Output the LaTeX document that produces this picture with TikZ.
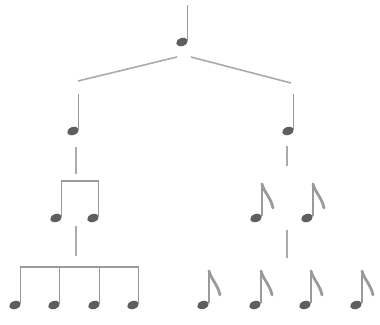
\documentclass[tikz,border=0pt]{standalone}
\usetikzlibrary{shapes.geometric}
\definecolor{headc}{HTML}{5E5E5E}
\definecolor{stemc}{HTML}{9A9A9A}
\definecolor{linkc}{HTML}{ABABAB}
\tikzset{
  nhead/.style={ellipse, fill=headc, minimum width=12pt, minimum height=8pt, inner sep=0pt, rotate=20},
  stemline/.style={draw=stemc, line width=1.6pt},
  beamline/.style={draw=stemc, line width=2.4pt},
  flagline/.style={draw=stemc, line width=2.8pt, line cap=round},
  linkline/.style={draw=linkc, line width=1.6pt},
}
\newcommand{\quarternote}[3]{%
  \node[nhead] (#1) at (#2,#3) {};
  \draw[stemline] (#1) ++(5.5,-1) -- ++(0,-36);
}
\newcommand{\eighthnote}[3]{%
  \node[nhead] (#1) at (#2,#3) {};
  \draw[stemline] (#1) ++(6,-2) -- ++(0,-33);
  \draw[flagline] (#1) ++(6,-34) .. controls ++(2,8) and ++(-2,-10) .. ++(11,24);
}
\begin{document}
\begin{tikzpicture}[x=1pt,y=-1pt]
\useasboundingbox (0,0) rectangle (380,324);
% top
\quarternote{t}{182}{42}
% level 1
\quarternote{l}{73}{131}
\quarternote{r}{288}{131}
\coordinate (tl) at (177,57);
\coordinate (tr) at (191,57);
\coordinate (le) at (78,81);
\coordinate (re) at (291,83);
\draw[linkline] (tl) -- (le);
\draw[linkline] (tr) -- (re);
% level 2 left: two beamed
\node[nhead] (la) at (56,218) {};
\node[nhead] (lb) at (93,218) {};
\draw[stemline] (la) ++(5.5,-2) coordinate (las) -- ++(0,-35) coordinate (lat);
\draw[stemline] (lb) ++(5.5,-2) coordinate (lbs) -- ++(0,-35) coordinate (lbt);
\draw[beamline] ([xshift=-0.8pt]lat) -- ([xshift=0.8pt]lbt);
\coordinate (l1a) at (76,147);
\coordinate (l1b) at (76,174);
\draw[linkline] (l1a) -- (l1b);
% level 2 right: two eighths
\eighthnote{ra}{256}{218}
\eighthnote{rb}{307}{218}
\coordinate (r1a) at (287,146);
\coordinate (r1b) at (287,166);
\draw[linkline] (r1a) -- (r1b);
% level 3 left: four beamed
\node[nhead] (a1) at (15,305) {};
\node[nhead] (a2) at (54,305) {};
\node[nhead] (a3) at (94,305) {};
\node[nhead] (a4) at (133,305) {};
\foreach \n in {a1,a2,a3,a4}{
  \draw[stemline] (\n) ++(5.5,-2) -- ++(0,-37);
}
\coordinate (bmA) at (19.7,267);
\coordinate (bmB) at (139.3,267);
\draw[beamline] (bmA) -- (bmB);
\coordinate (l2a) at (76,226);
\coordinate (l2b) at (76,256);
\draw[linkline] (l2a) -- (l2b);
% level 3 right: four eighths
\eighthnote{b1}{203}{305}
\eighthnote{b2}{255}{305}
\eighthnote{b3}{305}{305}
\eighthnote{b4}{356}{305}
\coordinate (r2a) at (287,230);
\coordinate (r2b) at (287,258);
\draw[linkline] (r2a) -- (r2b);
\end{tikzpicture}
\end{document}
